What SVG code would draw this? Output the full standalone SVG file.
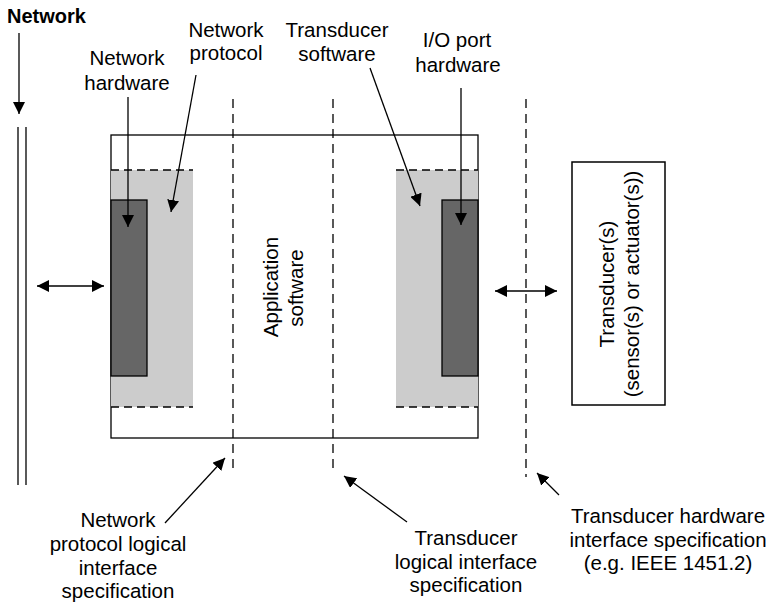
<svg xmlns="http://www.w3.org/2000/svg" width="775" height="604" viewBox="0 0 775 604">
<defs>
<style>
text{font-family:"Liberation Sans",Arial,sans-serif;font-size:20.5px;fill:#000}
.c{text-anchor:middle}
.ln{stroke:#000;stroke-width:1.3;fill:none}
.dash{stroke:#000;stroke-width:1.3;fill:none;stroke-dasharray:9 6}
.hd{stroke:#000;stroke-width:1.3;fill:none;stroke-dasharray:8 5}
.arr{marker-end:url(#ah)}
.dbl{marker-end:url(#ah);marker-start:url(#ahs)}
</style>
<marker id="ah" markerUnits="userSpaceOnUse" markerWidth="12" markerHeight="12" refX="12" refY="6" orient="auto"><path d="M0,0 L12,6 L0,12 z" fill="#000"/></marker>
<marker id="ahs" markerUnits="userSpaceOnUse" markerWidth="12" markerHeight="12" refX="12" refY="6" orient="auto-start-reverse"><path d="M0,0 L12,6 L0,12 z" fill="#000"/></marker>
</defs>
<rect width="775" height="604" fill="#fff"/>

<g id="network">
<text x="7" y="23" style="font-weight:bold;font-size:20px">Network</text>
<line class="ln" x1="18" y1="127" x2="18" y2="485"/>
<line class="ln" x1="26" y1="127" x2="26" y2="485"/>
</g>

<g id="node-box">
<rect x="111" y="135" width="367" height="303" fill="#fff" stroke="#000" stroke-width="1.3"/>
</g>

<g id="node-network-protocol">
<rect x="111" y="170" width="82" height="237" fill="#cccccc"/>
<line class="hd" x1="111" y1="170" x2="193" y2="170"/>
<line class="hd" x1="111" y1="407" x2="193" y2="407"/>
</g>
<g id="node-network-hardware">
<rect x="111" y="200" width="36" height="176" fill="#666666" stroke="#000" stroke-width="1.3"/>
</g>

<g id="node-transducer-software">
<rect x="396" y="170" width="82" height="237" fill="#cccccc"/>
<line class="hd" x1="396" y1="170" x2="478" y2="170"/>
<line class="hd" x1="396" y1="407" x2="478" y2="407"/>
</g>
<g id="node-io-port">
<rect x="442" y="200" width="36" height="176" fill="#666666" stroke="#000" stroke-width="1.3"/>
</g>

<g id="node-application">
<text class="c" transform="translate(278,287) rotate(-90)">Application</text>
<text class="c" transform="translate(303,288) rotate(-90)">software</text>
</g>

<g id="node-transducer">
<rect x="572" y="162" width="93" height="243" fill="#fff" stroke="#000" stroke-width="1.5"/>
<text class="c" transform="translate(614,284) rotate(-90)">Transducer(s)</text>
<text class="c" transform="translate(639,284) rotate(-90)">(sensor(s) or actuator(s))</text>
</g>

<g id="interfaces">
<line class="dash" x1="233" y1="99" x2="233" y2="473"/>
<line class="dash" x1="333" y1="99" x2="333" y2="473"/>
<line class="dash" x1="526" y1="99" x2="526" y2="477"/>
</g>

<g id="labels">
<text class="c" x="127" y="65">Network</text>
<text class="c" x="127" y="90">hardware</text>
<text class="c" x="226" y="37">Network</text>
<text class="c" x="226" y="60">protocol</text>
<text class="c" x="337" y="37">Transducer</text>
<text class="c" x="337" y="61">software</text>
<text class="c" x="457" y="47">I/O port</text>
<text class="c" x="458" y="72">hardware</text>
<text class="c" x="118" y="527">Network</text>
<text class="c" x="118" y="551">protocol logical</text>
<text class="c" x="118" y="575">interface</text>
<text class="c" x="118" y="598">specification</text>
<text class="c" x="466" y="545">Transducer</text>
<text class="c" x="466" y="569">logical interface</text>
<text class="c" x="466" y="592">specification</text>
<text class="c" x="668" y="523">Transducer hardware</text>
<text class="c" x="668" y="547">interface specification</text>
<text class="c" x="668" y="570">(e.g. IEEE 1451.2)</text>
</g>

<g id="connectors">
<line class="ln arr" x1="19" y1="33" x2="19" y2="114"/>
<line class="ln dbl" x1="37" y1="286" x2="104" y2="286"/>
<line class="ln dbl" x1="495" y1="291" x2="557" y2="291"/>
<line class="ln arr" x1="128" y1="97" x2="128" y2="227"/>
<line class="ln arr" x1="196" y1="75" x2="171" y2="212"/>
<line class="ln arr" x1="370" y1="68" x2="420" y2="206"/>
<line class="ln arr" x1="461" y1="88" x2="461" y2="225"/>
<line class="ln arr" x1="165" y1="523" x2="225" y2="458"/>
<line class="ln arr" x1="407" y1="522" x2="344" y2="476"/>
<line class="ln arr" x1="559" y1="495" x2="537" y2="473"/>
</g>
</svg>
